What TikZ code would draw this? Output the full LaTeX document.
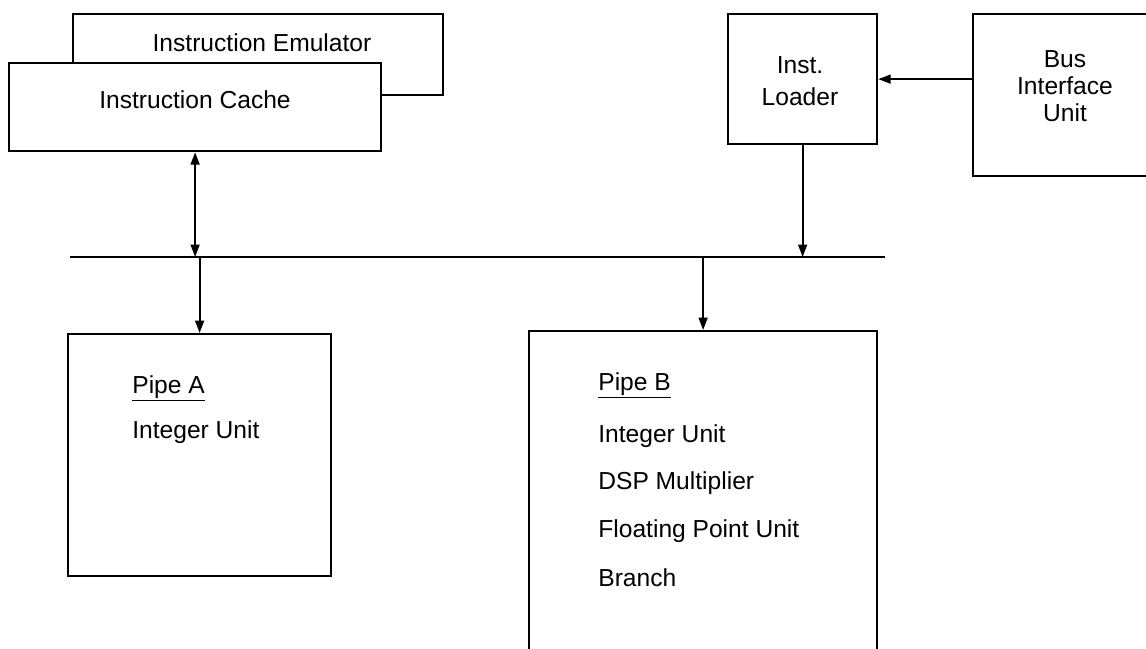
\documentclass[tikz,border=0pt]{standalone}
\usepackage{fontspec}
\setmainfont{Liberation Sans}
\usetikzlibrary{arrows.meta}
\begin{document}
\begin{tikzpicture}[x=0.02cm,y=-0.02cm,
  unit/.style={draw, line width=1.3pt, fill=white, inner sep=0pt, anchor=north west},
  lbl/.style={font=\fontsize{14}{17}\selectfont, inner sep=0pt},
  item/.style={lbl, anchor=base west},
  arr/.style={line width=1.1pt, -{Triangle[length=7pt,width=5pt]}},
  darr/.style={line width=1.1pt, {Triangle[length=7pt,width=5pt]}-{Triangle[length=7pt,width=5pt]}},
  busline/.style={line width=1.3pt}]
\useasboundingbox (0,0) rectangle (1146,649);
\clip (0,0) rectangle (1146,649);

% memory side: emulator behind the cache
\node[unit, minimum width=7.40cm, minimum height=1.62cm] (emu) at (72,13) {};
\node[unit, minimum width=7.44cm, minimum height=1.76cm] (cache) at (8,62) {};
\node[lbl] (emuT) at (262,43) {Instruction Emulator};
\node[lbl] (cacheT) at (195,100) {Instruction Cache};

% loader and bus interface
\node[unit, minimum width=2.98cm, minimum height=2.60cm] (loader) at (727,13) {};
\node[lbl, align=center, font=\fontsize{14}{18.2}\selectfont] (loaderT) at (800,81) {Inst.\\Loader};
\node[unit, minimum width=3.50cm, minimum height=3.24cm] (biu) at (972,13) {};
\node[lbl, align=center, font=\fontsize{14}{15.5}\selectfont] (biuT) at (1065,86) {Bus\\Interface\\Unit};

% internal bus
\coordinate (busL) at (70,257);
\coordinate (busR) at (885,257);
\draw[busline] (busL) -- (busR);

% pipes
\node[unit, minimum width=5.26cm, minimum height=4.84cm] (pipeA) at (67,333) {};
\node[unit, minimum width=6.96cm, minimum height=7.20cm] (pipeB) at (528,330) {};

\node[item] (pAh) at (132,393) {\underline{Pipe A}};
\node[item] (pA1) at (132,438) {Integer Unit};

\node[item] (pBh) at (598,390) {\underline{Pipe B}};
\node[item] (pB1) at (598,442) {Integer Unit};
\node[item] (pB2) at (598,489) {DSP Multiplier};
\node[item] (pB3) at (598,537) {Floating Point Unit};
\node[item] (pB4) at (598,586) {Branch};

% connections
\draw[darr] (cache.south) -- (cache.south |- busL);
\draw[arr] (pipeA.north |- busL) -- (pipeA.north);
\draw[arr] (pipeB.north |- busL) -- (pipeB.north);
\draw[arr] (loader.south) -- (loader.south |- busR);
\draw[arr] (biu.west |- loader.east) -- (loader.east);
\end{tikzpicture}
\end{document}
